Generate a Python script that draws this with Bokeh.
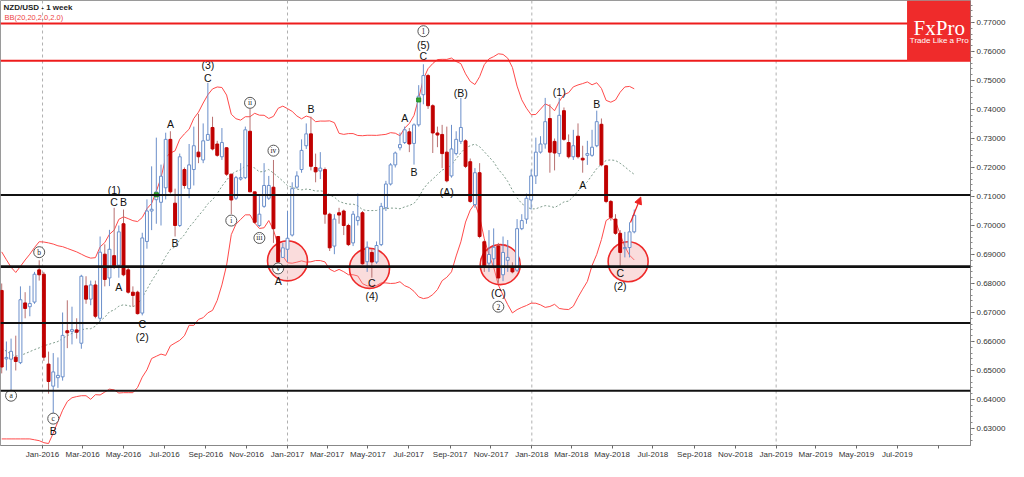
import pandas as pd
import numpy as np
from bokeh.plotting import figure
from bokeh.models import (ColumnDataSource, Span, BoxAnnotation, Label, Arrow, NormalHead,
                          PrintfTickFormatter, DatetimeTickFormatter, FixedTicker, Range1d)
from bokeh.core.properties import value
from bokeh.embed import file_html
from bokeh.resources import INLINE

# ---------------- data (weekly NZD/USD) ----------------
opens = [0.6776, 0.6540, 0.6539, 0.6546, 0.6527, 0.6733, 0.6720, 0.6736, 0.6847, 0.6832,
         0.6522, 0.6446, 0.6475, 0.6478, 0.6637, 0.6635, 0.6640, 0.6594, 0.6792, 0.6746,
         0.6795, 0.6680, 0.6901, 0.6819, 0.6896, 0.6863, 0.7006, 0.6847, 0.6770, 0.6770,
         0.6698, 0.6945, 0.7050, 0.7089, 0.7080, 0.7130, 0.7297, 0.7077, 0.7000, 0.7193,
         0.7127, 0.7193, 0.7253, 0.7226, 0.7294, 0.7338, 0.7281, 0.7237, 0.7268, 0.7177,
         0.7094, 0.7160, 0.7165, 0.7325, 0.7116, 0.7000, 0.7066, 0.7094, 0.7132, 0.6962,
         0.6890, 0.6918, 0.6967, 0.7132, 0.7193, 0.7275, 0.7316, 0.7200, 0.7188, 0.7193,
         0.7039, 0.6929, 0.7044, 0.7050, 0.7000, 0.6940, 0.7017, 0.7044, 0.6875, 0.6907,
         0.6874, 0.6934, 0.7061, 0.7143, 0.7209, 0.7268, 0.7286, 0.7323, 0.7283, 0.7347,
         0.7451, 0.7517, 0.7413, 0.7319, 0.7314, 0.7253, 0.7171, 0.7248, 0.7290, 0.7292,
         0.7220, 0.7072, 0.7182, 0.6944, 0.6870, 0.6885, 0.6929, 0.6830, 0.6880, 0.6853,
         0.6846, 0.6989, 0.7022, 0.7088, 0.7171, 0.7253, 0.7281, 0.7369, 0.7290, 0.7248,
         0.7396, 0.7286, 0.7237, 0.7308, 0.7232, 0.7242, 0.7242, 0.7275, 0.7349, 0.7206,
         0.7083, 0.7022, 0.6973, 0.6920, 0.6924, 0.6978]
highs = [0.6800, 0.6600, 0.6610, 0.6620, 0.6790, 0.6770, 0.6792, 0.6840, 0.6880, 0.6840,
         0.6565, 0.6560, 0.6545, 0.6700, 0.6742, 0.6720, 0.6680, 0.6830, 0.6825, 0.6810,
         0.6810, 0.6962, 0.6935, 0.6985, 0.7061, 0.7000, 0.7055, 0.6858, 0.6790, 0.6775,
         0.6975, 0.7090, 0.7204, 0.7303, 0.7210, 0.7320, 0.7325, 0.7127, 0.7248, 0.7200,
         0.7281, 0.7341, 0.7385, 0.7352, 0.7492, 0.7375, 0.7292, 0.7336, 0.7270, 0.7177,
         0.7171, 0.7215, 0.7341, 0.7402, 0.7116, 0.7105, 0.7215, 0.7171, 0.7226, 0.6962,
         0.6940, 0.7050, 0.7149, 0.7187, 0.7297, 0.7352, 0.7375, 0.7248, 0.7253, 0.7200,
         0.7044, 0.7039, 0.7061, 0.7055, 0.7006, 0.7050, 0.7110, 0.7050, 0.6945, 0.6918,
         0.6945, 0.7078, 0.7154, 0.7215, 0.7255, 0.7320, 0.7341, 0.7336, 0.7352, 0.7484,
         0.7556, 0.7523, 0.7418, 0.7341, 0.7347, 0.7341, 0.7347, 0.7325, 0.7440, 0.7297,
         0.7231, 0.7198, 0.7215, 0.6950, 0.6984, 0.6990, 0.6940, 0.6962, 0.6950, 0.6873,
         0.7022, 0.7039, 0.7110, 0.7193, 0.7303, 0.7308, 0.7440, 0.7418, 0.7300, 0.7440,
         0.7407, 0.7314, 0.7330, 0.7352, 0.7275, 0.7292, 0.7330, 0.7396, 0.7369, 0.7209,
         0.7088, 0.7039, 0.6984, 0.6978, 0.7011, 0.7055]
lows = [0.6490, 0.6500, 0.6434, 0.6500, 0.6522, 0.6680, 0.6687, 0.6730, 0.6810, 0.6533,
        0.6420, 0.6348, 0.6440, 0.6465, 0.6577, 0.6590, 0.6610, 0.6575, 0.6730, 0.6725,
        0.6680, 0.6670, 0.6790, 0.6791, 0.6850, 0.6820, 0.6825, 0.6765, 0.6720, 0.6693,
        0.6690, 0.6920, 0.6984, 0.7006, 0.7000, 0.7090, 0.7110, 0.6962, 0.6995, 0.7127,
        0.7094, 0.7138, 0.7215, 0.7215, 0.7292, 0.7259, 0.7237, 0.7226, 0.7171, 0.7039,
        0.7088, 0.7155, 0.7160, 0.7116, 0.7006, 0.6995, 0.7061, 0.7088, 0.6940, 0.6863,
        0.6890, 0.6874, 0.6962, 0.7127, 0.7182, 0.7264, 0.7190, 0.7149, 0.7160, 0.7006,
        0.6912, 0.6901, 0.7006, 0.6967, 0.6929, 0.6929, 0.7000, 0.6865, 0.6840, 0.6820,
        0.6868, 0.6929, 0.7050, 0.7138, 0.7200, 0.7259, 0.7281, 0.7253, 0.7210, 0.7341,
        0.7418, 0.7402, 0.7250, 0.7270, 0.7198, 0.7149, 0.7165, 0.7242, 0.7281, 0.7198,
        0.7078, 0.7061, 0.6956, 0.6840, 0.6840, 0.6860, 0.6802, 0.6808, 0.6840, 0.6835,
        0.6840, 0.6984, 0.7006, 0.7055, 0.7143, 0.7248, 0.7265, 0.7182, 0.7190, 0.7237,
        0.7292, 0.7231, 0.7226, 0.7231, 0.7182, 0.7209, 0.7237, 0.7270, 0.7204, 0.7077,
        0.7017, 0.6968, 0.6857, 0.6890, 0.6890, 0.6973]
closes = [0.6512, 0.6545, 0.6566, 0.6531, 0.6744, 0.6714, 0.6731, 0.6832, 0.6830, 0.6546,
          0.6462, 0.6495, 0.6483, 0.6621, 0.6630, 0.6641, 0.6632, 0.6825, 0.6746, 0.6795,
          0.6687, 0.6908, 0.6814, 0.6918, 0.6861, 0.6978, 0.6830, 0.6770, 0.6759, 0.6696,
          0.6957, 0.7050, 0.7056, 0.7116, 0.7170, 0.7297, 0.7116, 0.7000, 0.7237, 0.7138,
          0.7209, 0.7275, 0.7237, 0.7292, 0.7314, 0.7264, 0.7242, 0.7286, 0.7177, 0.7088,
          0.7165, 0.7165, 0.7330, 0.7116, 0.7011, 0.7039, 0.7138, 0.7138, 0.6989, 0.6874,
          0.6923, 0.6956, 0.7127, 0.7171, 0.7259, 0.7316, 0.7204, 0.7185, 0.7198, 0.7039,
          0.6923, 0.7022, 0.7036, 0.7000, 0.6934, 0.7039, 0.7030, 0.6868, 0.6925, 0.6874,
          0.6931, 0.7066, 0.7143, 0.7209, 0.7250, 0.7279, 0.7330, 0.7281, 0.7347, 0.7446,
          0.7517, 0.7413, 0.7319, 0.7312, 0.7248, 0.7154, 0.7264, 0.7297, 0.7338, 0.7204,
          0.7083, 0.7182, 0.6962, 0.6860, 0.6900, 0.6925, 0.6819, 0.6907, 0.6890, 0.6840,
          0.6989, 0.7017, 0.7094, 0.7171, 0.7253, 0.7281, 0.7358, 0.7253, 0.7250, 0.7380,
          0.7297, 0.7237, 0.7275, 0.7237, 0.7226, 0.7248, 0.7270, 0.7358, 0.7209, 0.7083,
          0.7028, 0.6973, 0.6907, 0.6924, 0.6978, 0.7035]
first_week = "2015-11-01"

# Bollinger band values before 20 weeks of history are available
upper_early = [0.6909, 0.6882, 0.6856, 0.6838, 0.6859, 0.6881, 0.6901, 0.6924, 0.6944, 0.6943,
               0.6940, 0.6936, 0.6930, 0.6927, 0.6921, 0.6915, 0.6909, 0.6901, 0.6893]
mid_early = [0.6578, 0.6566, 0.6556, 0.6550, 0.6552, 0.6558, 0.6565, 0.6572, 0.6578, 0.6585,
             0.6590, 0.6595, 0.6600, 0.6610, 0.6620, 0.6628, 0.6635, 0.6640, 0.6644]
lower_early = [0.6264, 0.6264, 0.6264, 0.6264, 0.6264, 0.6264, 0.6264, 0.6261, 0.6258, 0.6251,
               0.6248, 0.6284, 0.6324, 0.6363, 0.6393, 0.6406, 0.6410, 0.6413, 0.6413]

support_levels = [0.7105, 0.6858, 0.6664, 0.6430]
resistance_levels = [0.7697, 0.7568]
price_ticks = [0.63, 0.64, 0.65, 0.66, 0.67, 0.68, 0.69, 0.70, 0.71, 0.72, 0.73, 0.74, 0.75, 0.76, 0.77]
last_price = 0.70353
second_price = 0.70174

# Elliott wave labels: (text, week index, price)
wave_labels = [("B", 11, 0.6291),
               ("(1)", 24, 0.7122), ("C", 24, 0.7080), ("B", 26, 0.7080), ("A", 25, 0.6789),
               ("C", 30, 0.6660), ("(2)", 30, 0.6614),
               ("A", 36, 0.7350), ("B", 37, 0.6938),
               ("(3)", 44, 0.7555), ("C", 44, 0.7509),
               ("A", 59, 0.6809), ("B", 66, 0.7403),
               ("C", 79, 0.6802), ("(4)", 79, 0.6756),
               ("A", 86, 0.7370), ("B", 88, 0.7185),
               ("(5)", 90, 0.7624), ("C", 90, 0.7584),
               ("(B)", 98, 0.7456), ("(A)", 95, 0.7116),
               ("(C)", 106, 0.6766),
               ("(1)", 119, 0.7459), ("B", 127, 0.7419), ("A", 124, 0.7139),
               ("C", 132, 0.6835), ("(2)", 132, 0.6792)]
circled_labels = [("a", 2, 0.6413), ("b", 8, 0.6908), ("c", 11, 0.6334),
                  ("i", 49, 0.7017), ("ii", 53, 0.7423), ("iii", 55, 0.6957),
                  ("iv", 58, 0.7258), ("v", 59, 0.6852), ("1", 90, 0.7670), ("2", 106, 0.6720)]
zones = [(61, 0.6878), (78.5, 0.6852), (106.4, 0.6865), (133.7, 0.6875)]
green_marks = [(33, 0.7106), (89, 0.7433)]
arrow_from = (134.2, 0.7010)
arrow_to = (136.4, 0.7098)

# ---------------- derived ----------------
dates = pd.date_range(first_week, periods=len(closes), freq="7D")
DAY = 86400000.0
t0 = dates[0].value / 1e6


def wk(i):
    return t0 + i * 7 * DAY


s = pd.Series(closes)
mid = s.rolling(20).mean()
sd = s.rolling(20).std(ddof=0)
upper = (mid + 2 * sd).to_numpy()
lower = (mid - 2 * sd).to_numpy()
mid = mid.to_numpy()
n0 = len(upper_early)
upper[:n0] = upper_early
mid[:n0] = mid_early
lower[:n0] = lower_early

bull = [c >= o for o, c in zip(opens, closes)]
BULL = "#6b8fca"
BEAR = "#c00000"
BEARWICK = "#b87070"
src = ColumnDataSource(dict(
    x=dates, o=opens, h=highs, l=lows, c=closes,
    top=[max(o, c) for o, c in zip(opens, closes)],
    bot=[min(o, c) for o, c in zip(opens, closes)],
    fill=["white" if b else BEAR for b in bull],
    line=[BULL if b else BEAR for b in bull],
    wick=[BULL if b else BEARWICK for b in bull],
))

x_start = pd.Timestamp("2016-01-01").value / 1e6 - 62.8 * DAY
x_end = pd.Timestamp("2016-01-01").value / 1e6 + 1386.4 * DAY
y_lo, y_hi = 0.62413, 0.77759

p = figure(width=1008, height=461, x_axis_type="datetime",
           x_range=Range1d(x_start, x_end), y_range=Range1d(y_lo, y_hi),
           y_axis_location="right", output_backend="svg", toolbar_location=None,
           min_border_left=0, min_border_top=0, min_border_bottom=0, min_border_right=0)
p.grid.visible = False
p.outline_line_color = "#9a9a9a"
p.background_fill_color = "white"

# year separators
for yr in [2016, 2017, 2018, 2019]:
    p.add_layout(Span(location=pd.Timestamp(f"{yr}-01-01").value / 1e6, dimension="height",
                      line_color="#b0b0b0", line_dash="3 3", line_width=1, level="underlay"))

# Bollinger bands
p.line(dates, upper, line_color="#ff4a4a", line_width=1)
p.line(dates, lower, line_color="#ff4a4a", line_width=1)
p.line(dates, mid, line_color="#7f9c8c", line_width=1, line_dash="2 2")

# zones
p.scatter([wk(i) for i, _ in zones], [v for _, v in zones], marker="circle", size=40,
          fill_color="#f19a9a", fill_alpha=0.35, line_color="#ee2a2a", line_width=1.6)

# candles
p.segment(x0="x", y0="h", x1="x", y1="l", line_color="wick", line_width=1, source=src)
p.vbar(x="x", width=0.62 * 7 * DAY, top="top", bottom="bot", fill_color="fill",
       line_color="line", line_width=1, source=src)

p.scatter([wk(i) for i, _ in green_marks], [v for _, v in green_marks], marker="square",
          size=4, fill_color="#33aa33", line_color="#228822")

# horizontal levels
for i, lv in enumerate(support_levels):
    p.add_layout(Span(location=lv, dimension="width", line_color="#111111",
                      line_width=2.6 if i == 1 else 2))
for lv in resistance_levels:
    p.add_layout(Span(location=lv, dimension="width", line_color="#ee1c1c", line_width=2))

# wave labels
p.text([wk(i) for _, i, _ in wave_labels], [v for _, _, v in wave_labels],
       text=[t for t, _, _ in wave_labels], text_align="center", text_baseline="middle",
       text_font=value("Liberation Sans"), text_font_size="10.5px", text_color="#111111")
p.scatter([wk(i) for _, i, _ in circled_labels], [v for _, _, v in circled_labels],
          marker="circle", size=11, fill_color="white", line_color="#555555", line_width=1)
p.text([wk(i) for _, i, _ in circled_labels], [v for _, _, v in circled_labels],
       text=[t for t, _, _ in circled_labels], text_align="center", text_baseline="middle",
       text_font=value("Liberation Serif"), text_font_size="7.5px", text_color="#222222")

# arrow
p.add_layout(Arrow(end=NormalHead(size=7, fill_color="#ee2222", line_color="#ee2222"),
                   x_start=wk(arrow_from[0]), y_start=arrow_from[1],
                   x_end=wk(arrow_to[0]), y_end=arrow_to[1],
                   line_color="#ee2222", line_width=1.2))

# logo
logo_left = pd.Timestamp("2016-01-01").value / 1e6 + (928 - 43) / 0.6852 * DAY
logo_mid = pd.Timestamp("2016-01-01").value / 1e6 + (961 - 43) / 0.6852 * DAY
p.add_layout(BoxAnnotation(left=logo_left, bottom=resistance_levels[1], fill_color="#ef2b2b",
                           fill_alpha=1.0, line_color=None, level="overlay"))
p.add_layout(Label(x=logo_mid, y=0.7680, text="FxPro", text_align="center",
                   text_baseline="middle", text_color="white", text_font_size="21px",
                   text_font="Liberation Serif", level="overlay"))
p.add_layout(Label(x=logo_mid, y=0.7638, text="Trade Like a Pro", text_align="center",
                   text_baseline="middle", text_color="white", text_font_size="8px",
                   text_font="Liberation Sans", level="overlay"))

# title texts
p.add_layout(Label(x=x_start, y=y_hi, x_offset=3, y_offset=-2, text="NZD/USD - 1 week",
                   text_baseline="top", text_font_size="8px", text_font_style="bold",
                   text_font="Liberation Sans", text_color="#222222"))
p.add_layout(Label(x=x_start, y=y_hi, x_offset=4, y_offset=-12, text="BB(20,20,2.0,2.0)",
                   text_baseline="top", text_font_size="7.5px",
                   text_font="Liberation Sans", text_color="#ee4444"))

# price labels on axis
p.add_layout(Label(x=x_end, y=second_price, x_offset=1, text=f"{second_price:.5f}",
                   text_baseline="middle", text_font_size="8px", text_font="Liberation Sans",
                   text_color="#cc3333", background_fill_color="#f5c6c6"))
p.add_layout(Label(x=x_end, y=last_price, x_offset=1, text=f"{last_price:.5f}",
                   text_baseline="middle", text_font_size="8px", text_font="Liberation Sans",
                   text_color="#333333", background_fill_color="white",
                   border_line_color="#888888"))

# axes
ya = p.yaxis[0]
ya.ticker = FixedTicker(ticks=price_ticks,
                        minor_ticks=[round(0.624 + 0.002 * k, 3) for k in range(78)])
ya.formatter = PrintfTickFormatter(format="%.5f")
ya.major_label_text_font_size = "8px"
ya.major_label_text_font = "Liberation Sans"
ya.major_label_text_color = "#333333"
ya.major_tick_in = 0
ya.major_tick_out = 4
ya.minor_tick_in = 0
ya.minor_tick_out = 2
ya.axis_line_color = "#888888"
ya.major_tick_line_color = "#666666"
ya.minor_tick_line_color = "#888888"
ya.major_label_standoff = 2

month_ticks = pd.date_range("2016-01-01", "2019-09-01", freq="2MS")
xa = p.xaxis[0]
xa.ticker = FixedTicker(ticks=[d.value / 1e6 for d in month_ticks])
fmt = "%b-%Y"
xa.formatter = DatetimeTickFormatter(months=fmt, days=fmt, years=fmt, hours=fmt,
                                     minutes=fmt, seconds=fmt, milliseconds=fmt,
                                     microseconds=fmt, minsec=fmt, hourmin=fmt)
xa.major_label_overrides = {month_ticks[-1].value / 1e6: ""}
xa.major_label_text_font_size = "8px"
xa.major_label_text_font = "Liberation Sans"
xa.major_label_text_color = "#333333"
xa.major_tick_in = 0
xa.major_tick_out = 3
xa.minor_tick_out = 0
xa.minor_tick_in = 0
xa.axis_line_color = "#888888"
xa.major_tick_line_color = "#666666"
xa.major_label_standoff = 1

open("out.html", "w").write(file_html(p, INLINE))
